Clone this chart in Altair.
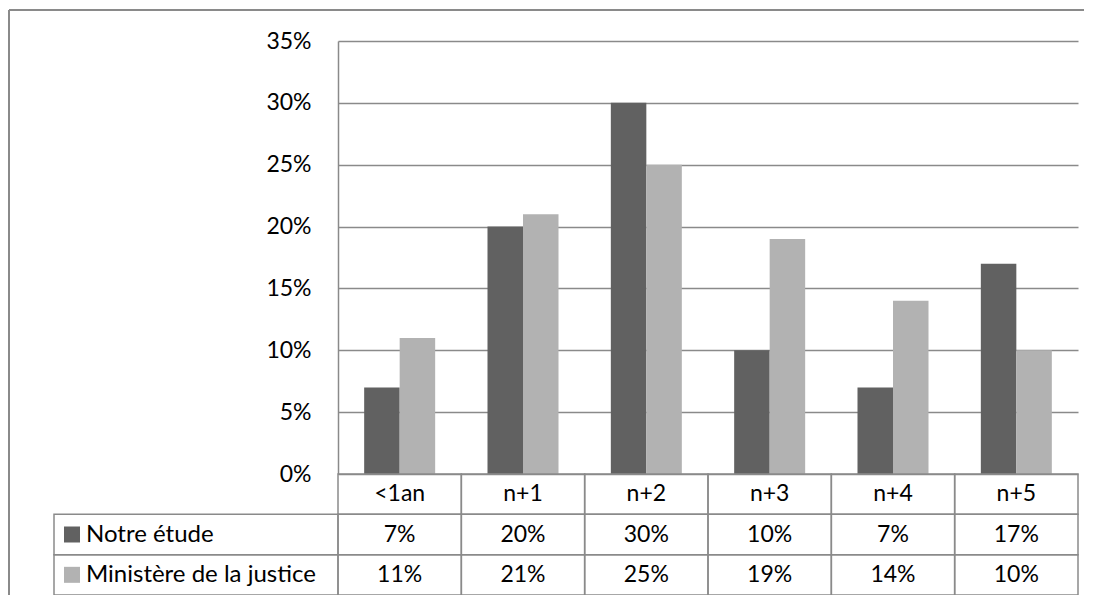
import altair as alt
import pandas as pd

categories = ["<1an", "n+1", "n+2", "n+3", "n+4", "n+5"]
series_names = ["Notre étude", "Ministère de la justice"]
notre_etude = [0.07, 0.20, 0.30, 0.10, 0.07, 0.17]
ministere = [0.11, 0.21, 0.25, 0.19, 0.14, 0.10]
y_ticks = [0, 0.05, 0.10, 0.15, 0.20, 0.25, 0.30, 0.35]
colors = ["#616161", "#b2b2b2"]

FONT = "Lato"
FS = 23
LINE = "#8a8a8a"

rows = []
for name, vals in zip(series_names, [notre_etude, ministere]):
    for c, v in zip(categories, vals):
        rows.append({"cat": c, "series": name, "value": v, "label": f"{round(v * 100)}%"})
df = pd.DataFrame(rows)
hdr = pd.DataFrame({"cat": categories, "row": ["header"] * len(categories)})
leg = pd.DataFrame({"series": series_names, "row": series_names})

row_domain = ["header"] + series_names

x_enc = alt.X("cat:N", sort=categories, axis=None,
              scale=alt.Scale(domain=categories, paddingInner=0, paddingOuter=0))
color_enc = alt.Color("series:N", legend=None,
                      scale=alt.Scale(domain=series_names, range=colors))
row_y = alt.Y("row:N", axis=None,
              scale=alt.Scale(domain=row_domain, range=[433, 554], paddingInner=0, paddingOuter=0))
series_y = alt.Y("series:N", axis=None,
                 scale=alt.Scale(domain=row_domain, range=[433, 554], paddingInner=0, paddingOuter=0))

bars = alt.Chart(df).mark_bar().encode(
    x=x_enc,
    xOffset=alt.XOffset("series:N", sort=series_names,
                        scale=alt.Scale(domain=series_names, paddingInner=0, paddingOuter=0.737)),
    y=alt.Y("value:Q",
            scale=alt.Scale(domain=[0, 0.35], nice=False),
            axis=alt.Axis(values=y_ticks, format=".0%", title=None, grid=True,
                          gridColor=LINE, gridWidth=1.3, ticks=False, labelPadding=27,
                          domain=True, domainColor=LINE, domainWidth=1.5,
                          labelFont=FONT, labelFontSize=FS, labelColor="#000")),
    color=color_enc,
)

header_cells = alt.Chart(hdr).mark_rect(fill="white", fillOpacity=0, stroke=LINE, strokeWidth=1.5).encode(
    x=x_enc, y=row_y)
header_text = alt.Chart(hdr).mark_text(font=FONT, fontSize=FS, color="#000").encode(
    x=x_enc, y=row_y, text="cat:N")

value_cells = alt.Chart(df).mark_rect(fill="white", fillOpacity=0, stroke=LINE, strokeWidth=1.5).encode(
    x=x_enc, y=series_y)
value_text = alt.Chart(df).mark_text(font=FONT, fontSize=FS, color="#000").encode(
    x=x_enc, y=series_y, text="label:N")

legend_cells = alt.Chart(leg).mark_rect(fill="white", fillOpacity=0, stroke=LINE, strokeWidth=1.5).encode(
    x=alt.value(-284), x2=alt.value(0), y=row_y)
legend_squares = alt.Chart(leg).mark_square(size=256, opacity=1).encode(
    x=alt.value(-266), y=row_y, color=color_enc)
legend_text = alt.Chart(leg).mark_text(font=FONT, fontSize=24, color="#000", align="left").encode(
    x=alt.value(-252), y=row_y, text="series:N")

frame_top = alt.Chart(leg).mark_rule(color=LINE, strokeWidth=2).encode(
    x=alt.value(-329), x2=alt.value(760), y=alt.value(-31))
frame_left = alt.Chart(leg).mark_rule(color=LINE, strokeWidth=2).encode(
    x=alt.value(-329), y=alt.value(-31), y2=alt.value(570))

chart = alt.layer(
    bars, header_cells, header_text, value_cells, value_text,
    legend_cells, legend_squares, legend_text, frame_top, frame_left
).resolve_scale(y="independent").properties(
    width=740, height=433,
    autosize=alt.AutoSizeParams(type="none"),
    padding={"left": 330, "top": 33, "right": 6, "bottom": 121},
    background="white",
).configure_view(stroke=None)

chart.save("out.html", embed_options={"renderer": "svg", "actions": False})
